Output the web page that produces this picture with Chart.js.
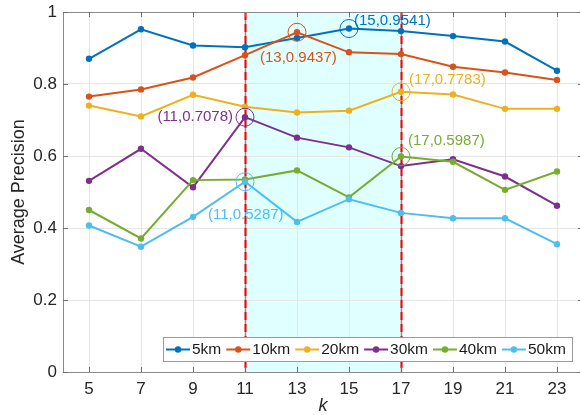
<!DOCTYPE html>
<html>
<head>
<meta charset="utf-8">
<script src="https://cdn.jsdelivr.net/npm/chart.js@4/dist/chart.umd.min.js"></script>
<style>
  html, body { margin: 0; padding: 0; background: #fff; overflow: hidden; }
  #wrap { width: 580px; height: 415px; overflow: hidden; }
  canvas { display: block; }
</style>
</head>
<body>
<div id="wrap"><canvas id="c" width="600" height="415"></canvas></div>
<script>
// Neighbourhood size k
const categories = [5, 7, 9, 11, 13, 15, 17, 19, 21, 23];
const seriesNames = ['5km', '10km', '20km', '30km', '40km', '50km'];

// Average precision per distance threshold
const ap5km  = [0.870, 0.952, 0.907, 0.902, 0.928, 0.9541, 0.947, 0.933, 0.918, 0.837];
const ap10km = [0.765, 0.785, 0.818, 0.880, 0.9437, 0.888, 0.883, 0.848, 0.832, 0.811];
const ap20km = [0.740, 0.710, 0.770, 0.737, 0.721, 0.726, 0.7783, 0.771, 0.731, 0.731];
const ap30km = [0.531, 0.620, 0.513, 0.7078, 0.651, 0.624, 0.572, 0.591, 0.543, 0.462];
const ap40km = [0.450, 0.371, 0.533, 0.535, 0.560, 0.485, 0.5987, 0.584, 0.506, 0.557];
const ap50km = [0.407, 0.348, 0.431, 0.5287, 0.417, 0.480, 0.442, 0.427, 0.427, 0.355];

const yTicks = [0, 0.2, 0.4, 0.6, 0.8, 1];
const xTicks = categories;

// Highlighted k range
const bandRange = [11, 17];

// Points called out with a circle and their coordinates
const highlightSeries = ['10km', '5km', '20km', '30km', '40km', '50km'];
const highlightK      = [13, 15, 17, 11, 17, 11];

const seriesValues = [ap5km, ap10km, ap20km, ap30km, ap40km, ap50km];
const colors = ['#0072BD', '#D95319', '#EDB120', '#7E2F8E', '#77AC30', '#4DBEEE'];

// label placement relative to the circled point (px)
const labelPlacement = {
  '10km': { dx: -37, dy: 26, align: 'left' },
  '5km':  { dx: 5,   dy: -8, align: 'left' },
  '20km': { dx: 8,   dy: -12, align: 'left' },
  '30km': { dx: -12, dy: 0, align: 'right' },
  '40km': { dx: 7,   dy: -16, align: 'left' },
  '50km': { dx: -37, dy: 33, align: 'left' }
};

const FONT = '"Liberation Sans", Arial, Helvetica, sans-serif';

const datasets = seriesNames.map((name, i) => ({
  label: name,
  data: categories.map((k, j) => ({ x: k, y: seriesValues[i][j] })),
  borderColor: colors[i],
  backgroundColor: colors[i],
  borderWidth: 2,
  pointRadius: 3.2,
  pointHoverRadius: 3.2,
  pointBorderWidth: 0,
  tension: 0,
  order: -i
}));

const bandPlugin = {
  id: 'band',
  beforeDraw(chart) {
    const { ctx, chartArea: a, scales: { x } } = chart;
    const x0 = x.getPixelForValue(bandRange[0]);
    const x1 = x.getPixelForValue(bandRange[1]);
    ctx.save();
    ctx.fillStyle = 'rgb(224,255,255)';
    ctx.fillRect(x0, a.top, x1 - x0, a.bottom - a.top);
    ctx.restore();
  },
  beforeDatasetsDraw(chart) {
    const { ctx, chartArea: a, scales: { x } } = chart;
    ctx.save();
    bandRange.forEach(v => {
      const px = Math.round(x.getPixelForValue(v)) + 0.5;
      ctx.strokeStyle = '#8f8f8f';
      ctx.lineWidth = 1.5;
      ctx.setLineDash([]);
      ctx.beginPath(); ctx.moveTo(px, a.top); ctx.lineTo(px, a.bottom); ctx.stroke();
      ctx.strokeStyle = '#ff0000';
      ctx.lineWidth = 2;
      ctx.setLineDash([8, 4]);
      ctx.beginPath(); ctx.moveTo(px, a.top); ctx.lineTo(px, a.bottom); ctx.stroke();
    });
    ctx.restore();
  }
};

const frameTicksPlugin = {
  id: 'frameTicks',
  afterDatasetsDraw(chart) {
    const { ctx, chartArea: a, scales: { x, y } } = chart;
    ctx.save();
    ctx.strokeStyle = '#8a8a8a';
    ctx.lineWidth = 1;
    ctx.strokeRect(a.left + 0.5, a.top + 0.5, a.right - a.left, a.bottom - a.top);
    ctx.strokeStyle = '#6e6e6e';
    xTicks.forEach(v => {
      const px = Math.round(x.getPixelForValue(v)) + 0.5;
      ctx.beginPath(); ctx.moveTo(px, a.top); ctx.lineTo(px, a.top + 5); ctx.stroke();
      ctx.beginPath(); ctx.moveTo(px, a.bottom); ctx.lineTo(px, a.bottom - 5); ctx.stroke();
    });
    yTicks.forEach(v => {
      const py = Math.round(y.getPixelForValue(v)) + 0.5;
      ctx.beginPath(); ctx.moveTo(a.left, py); ctx.lineTo(a.left + 5, py); ctx.stroke();
      ctx.beginPath(); ctx.moveTo(a.right, py); ctx.lineTo(a.right - 5, py); ctx.stroke();
    });
    ctx.restore();
  }
};

const calloutPlugin = {
  id: 'callouts',
  afterDatasetsDraw(chart) {
    const { ctx, scales: { x, y } } = chart;
    ctx.save();
    ctx.font = '15px ' + FONT;
    ctx.textBaseline = 'middle';
    highlightSeries.forEach((name, i) => {
      const si = seriesNames.indexOf(name);
      const k = highlightK[i];
      const v = seriesValues[si][categories.indexOf(k)];
      const px = x.getPixelForValue(k);
      const py = y.getPixelForValue(v);
      ctx.strokeStyle = colors[si];
      ctx.lineWidth = 1;
      ctx.beginPath(); ctx.arc(px, py, 9, 0, Math.PI * 2); ctx.stroke();
      const p = labelPlacement[name];
      ctx.fillStyle = colors[si];
      ctx.textAlign = p.align;
      ctx.fillText('(' + k + ',' + v.toFixed(4) + ')', px + p.dx, py + p.dy);
    });
    ctx.restore();
  }
};

const legendPlugin = {
  id: 'boxLegend',
  afterDraw(chart) {
    const { ctx } = chart;
    const left = 163, top = 337, w = 409, h = 24;
    ctx.save();
    ctx.fillStyle = '#ffffff';
    ctx.fillRect(left, top, w, h);
    ctx.strokeStyle = '#9a9a9a';
    ctx.lineWidth = 1;
    ctx.strokeRect(left + 0.5, top + 0.5, w, h);
    ctx.font = '15.5px ' + FONT;
    ctx.textBaseline = 'middle';
    ctx.textAlign = 'left';
    let cx = left + 3;
    const cy = top + h / 2 + 0.5;
    seriesNames.forEach((name, i) => {
      ctx.strokeStyle = colors[i];
      ctx.lineWidth = 2;
      ctx.beginPath(); ctx.moveTo(cx, cy); ctx.lineTo(cx + 24, cy); ctx.stroke();
      ctx.fillStyle = colors[i];
      ctx.beginPath(); ctx.arc(cx + 12, cy, 3.2, 0, Math.PI * 2); ctx.fill();
      ctx.fillStyle = '#1a1a1a';
      ctx.fillText(name, cx + 26, cy + 0.5);
      cx += 26 + ctx.measureText(name).width + 5;
    });
    ctx.restore();
  }
};

new Chart(document.getElementById('c'), {
  type: 'line',
  data: { datasets },
  options: {
    responsive: false,
    animation: false,
    layout: { padding: { left: 0, right: 17, top: 12, bottom: 0 } },
    plugins: { legend: { display: false }, tooltip: { enabled: false } },
    scales: {
      x: {
        type: 'linear',
        min: 4, max: 24,
        afterBuildTicks: s => { s.ticks = xTicks.map(v => ({ value: v })); },
        afterFit: s => { s.height = 43; s.paddingLeft = 0; s.paddingRight = 0; },
        grid: { color: '#e6e6e6', drawTicks: false, lineWidth: 1 },
        border: { display: false },
        ticks: { color: '#262626', padding: 7, font: { family: FONT, size: 17 }, maxRotation: 0 },
        title: {
          display: true, text: 'k', color: '#262626',
          font: { family: FONT, size: 18, style: 'italic', lineHeight: 1 },
          padding: { top: 0, bottom: 0 }
        }
      },
      y: {
        min: 0, max: 1,
        afterBuildTicks: s => { s.ticks = yTicks.map(v => ({ value: v })); },
        afterFit: s => { s.width = 63; s.paddingTop = 0; s.paddingBottom = 0; },
        grid: { color: '#e6e6e6', drawTicks: false, lineWidth: 1 },
        border: { display: false },
        ticks: { color: '#262626', padding: 6, font: { family: FONT, size: 17 }, callback: v => String(v) },
        title: {
          display: true, text: 'Average Precision', color: '#262626',
          font: { family: FONT, size: 18, lineHeight: 1.2 },
          padding: { top: 8, bottom: 0 }
        }
      }
    }
  },
  plugins: [bandPlugin, frameTicksPlugin, calloutPlugin, legendPlugin]
});
</script>
</body>
</html>
